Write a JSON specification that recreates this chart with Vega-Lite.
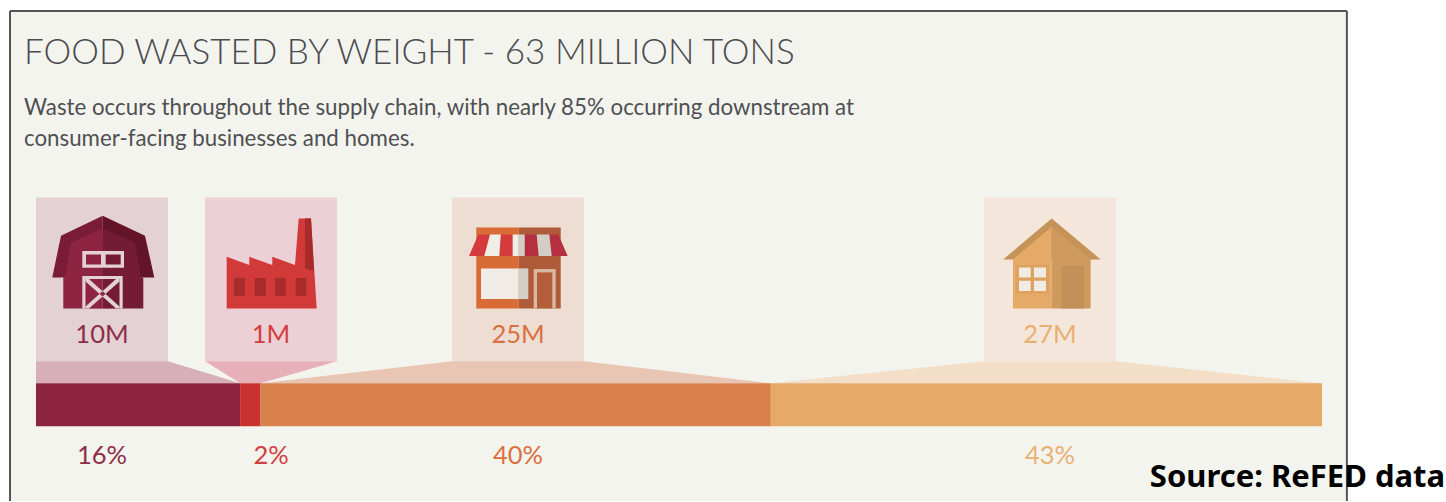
{
"$schema":"https://vega.github.io/schema/vega-lite/v6.json",
"width":1446,"height":502,"padding":0,
"autosize":{"type":"fit","contains":"padding"},
"background":"#ffffff",
"config":{"view":{"stroke":null},"axis":{"disable":true}},
"resolve":{"scale":{"color":"independent"}},
"datasets":{
"card":[{"name":"card"}],
"stages":[
{"stage":"Farms","seq":1,"tons":10,"tonsLabel":"10M","shareLabel":"16%","center":3.233,"panelStart":0,"panelEnd":6.467},
{"stage":"Manufacturers","seq":2,"tons":1,"tonsLabel":"1M","shareLabel":"2%","center":11.512,"panelStart":8.279,"panelEnd":14.746},
{"stage":"Consumer-facing businesses","seq":3,"tons":25,"tonsLabel":"25M","shareLabel":"40%","center":23.613,"panelStart":20.379,"panelEnd":26.846},
{"stage":"Homes","seq":4,"tons":27,"tonsLabel":"27M","shareLabel":"43%","center":49.674,"panelStart":46.441,"panelEnd":52.907}
],
"funnels":[
{"stage":"Farms","edge":"panel","from":0,"to":6.467},
{"stage":"Farms","edge":"bar","from":0,"to":10},
{"stage":"Manufacturers","edge":"panel","from":8.279,"to":14.746},
{"stage":"Manufacturers","edge":"bar","from":10,"to":11},
{"stage":"Consumer-facing businesses","edge":"panel","from":20.379,"to":26.846},
{"stage":"Consumer-facing businesses","edge":"bar","from":11,"to":36},
{"stage":"Homes","edge":"panel","from":46.441,"to":52.907},
{"stage":"Homes","edge":"bar","from":36,"to":63}
],
"iconParts":[
{"stage":"Farms","part":"barnRoofL"},{"stage":"Farms","part":"barnRoofR"},{"stage":"Farms","part":"barnWallL"},{"stage":"Farms","part":"barnWallR"},{"stage":"Farms","part":"barnTrim"},{"stage":"Farms","part":"barnPaneL"},{"stage":"Farms","part":"barnPaneR"},{"stage":"Farms","part":"barnCross"},
{"stage":"Manufacturers","part":"plant"},{"stage":"Manufacturers","part":"plantShade"},
{"stage":"Consumer-facing businesses","part":"shopL"},{"stage":"Consumer-facing businesses","part":"shopR"},{"stage":"Consumer-facing businesses","part":"awningRedL"},{"stage":"Consumer-facing businesses","part":"awningWhiteL"},{"stage":"Consumer-facing businesses","part":"awningRedR"},{"stage":"Consumer-facing businesses","part":"awningWhiteR"},{"stage":"Consumer-facing businesses","part":"shopGlassL"},{"stage":"Consumer-facing businesses","part":"shopGlassR"},{"stage":"Consumer-facing businesses","part":"shopDoorFrame"},{"stage":"Consumer-facing businesses","part":"shopDoor"},
{"stage":"Homes","part":"houseRoof"},{"stage":"Homes","part":"houseWallL"},{"stage":"Homes","part":"houseWallR"},{"stage":"Homes","part":"houseDoor"},{"stage":"Homes","part":"houseSash"},{"stage":"Homes","part":"housePanes"}
]
},
"layer":[
{"data":{"name":"card"},"mark":{"type":"rect","fill":"#F4F4EE"},
"encoding":{"x":{"datum":-1.274,"type":"quantitative","scale":{"domain":[-1.7636,69.0753],"nice":false,"zero":false}},"x2":{"datum":64.22},"y":{"datum":10,"type":"quantitative","scale":{"domain":[501,-1],"nice":false,"zero":false}},"y2":{"datum":501}}},
{"data":{"name":"card"},"mark":{"type":"rule","stroke":"#555555","strokeWidth":2},
"encoding":{"x":{"datum":-1.274,"type":"quantitative"},"x2":{"datum":64.22},"y":{"datum":10,"type":"quantitative"}}},
{"data":{"name":"card"},"mark":{"type":"rule","stroke":"#555555","strokeWidth":2},
"encoding":{"x":{"datum":-1.274,"type":"quantitative"},"y":{"datum":10,"type":"quantitative"},"y2":{"datum":501}}},
{"data":{"name":"card"},"mark":{"type":"rule","stroke":"#555555","strokeWidth":2},
"encoding":{"x":{"datum":64.22,"type":"quantitative"},"y":{"datum":10,"type":"quantitative"},"y2":{"datum":501}}},
{"data":{"name":"stages"},"mark":{"type":"rect"},
"encoding":{"x":{"field":"panelStart","type":"quantitative"},"x2":{"field":"panelEnd"},"y":{"datum":197,"type":"quantitative"},"y2":{"datum":361},
"color":{"field":"stage","type":"nominal","legend":null,"scale":{"domain":["Farms","Manufacturers","Consumer-facing businesses","Homes"],"range":["#E3D1D4","#EDD0D5","#EEDDD3","#F4E6DA"]}}}},
{"data":{"name":"funnels"},
"transform":[{"calculate":"datum.edge === 'panel' ? 361 : 383","as":"depth"}],
"mark":{"type":"area","orient":"horizontal"},
"encoding":{"y":{"field":"depth","type":"quantitative"},"x":{"field":"from","type":"quantitative","stack":null},"x2":{"field":"to"},
"color":{"field":"stage","type":"nominal","legend":null,"scale":{"domain":["Farms","Manufacturers","Consumer-facing businesses","Homes"],"range":["#D6AFBA","#E7B0B8","#E9C5B4","#F3DEC8"]}}}},
{"data":{"name":"stages"},
"transform":[{"stack":"tons","groupby":[],"sort":[{"field":"seq","order":"ascending"}],"as":["tonsStart","tonsEnd"]}],
"mark":{"type":"rect"},
"encoding":{"x":{"field":"tonsStart","type":"quantitative"},"x2":{"field":"tonsEnd"},"y":{"datum":383,"type":"quantitative"},"y2":{"datum":426},
"color":{"field":"stage","type":"nominal","legend":null,"scale":{"domain":["Farms","Manufacturers","Consumer-facing businesses","Homes"],"range":["#8D2441","#C7322E","#D8814C","#E5A968"]}}}},
{"data":{"name":"iconParts"},
"transform":[{"lookup":"stage","from":{"data":{"name":"stages"},"key":"stage","fields":["center"]}}],
"mark":{"type":"point","filled":true,"opacity":1,"size":4},
"encoding":{"x":{"field":"center","type":"quantitative"},"y":{"datum":308,"type":"quantitative"},
"shape":{"field":"part","type":"nominal","legend":null,"scale":{
"domain":["barnRoofL","barnRoofR","barnWallL","barnWallR","barnTrim","barnPaneL","barnPaneR","barnCross","plant","plantShade","shopL","shopR","awningRedL","awningWhiteL","awningRedR","awningWhiteR","shopGlassL","shopGlassR","shopDoorFrame","shopDoor","houseRoof","houseWallL","houseWallR","houseDoor","houseSash","housePanes"],
"range":[
"M0.7,-92.7L-41,-72.7L-49.7,-31L0.7,-31Z",
"M0.7,-92.7L43,-72.7L52.3,-31L0.7,-31Z",
"M0.7,-80L-31,-66L-37,-31L-38.7,-31L-38.7,0L0.7,0Z",
"M0.7,-80L33,-66L39,-31L41.3,-31L41.3,0L0.7,0Z",
"M-19.7,-57.3L22,-57.3L22,-40.7L-19.7,-40.7ZM-19.7,-32.3L20.7,-32.3L20.7,0L-19.7,0Z",
"M-16,-54L-1,-54L-1,-44L-16,-44ZM-16.5,-29.5L0.7,-29.5L0.7,0L-16.5,0Z",
"M3.7,-54L18.7,-54L18.7,-44L3.7,-44ZM0.7,-29.5L17.5,-29.5L17.5,0L0.7,0Z",
"M-16.5,-29.5L-13,-29.5L17.5,-2L17.5,0L14,0L-16.5,-27ZM17.5,-29.5L14,-29.5L-16.5,-2L-16.5,0L-13,0L17.5,-27Z",
"M-44.3,0L-44.3,-51.7L-21.7,-43.3L-21.7,-51.7L1.3,-43.3L1.3,-51.7L24,-43.3L27.7,-90L40,-90L45.7,0Z",
"M34,-90L40,-90L43,-37.3L34,-40ZM-37,-30.3L-26,-30.3L-26,-12.3L-37,-12.3ZM-16.3,-30.3L-5.3,-30.3L-5.3,-12.3L-16.3,-12.3ZM4,-30.3L14.7,-30.3L14.7,-12.3L4,-12.3ZM24.7,-30.3L35.3,-30.3L35.3,-12.3L24.7,-12.3Z",
"M-41.7,-81L0.7,-81L0.7,0L-41.7,0Z",
"M0.7,-81L42.7,-81L42.7,0L0.7,0Z",
"M-39.7,-74L-28,-74L-33.7,-52.3L-49,-52.3ZM-17.3,-74L-5.3,-74L-5.3,-52.3L-18.7,-52.3Z",
"M-28,-74L-17.3,-74L-18.7,-52.3L-33.7,-52.3ZM-5.3,-74L0.7,-74L0.7,-52.3L-5.3,-52.3Z",
"M6.7,-74L18.7,-74L20.7,-52.3L6.7,-52.3ZM31.3,-74L40.3,-74L49.7,-52.3L33.7,-52.3Z",
"M0.7,-74L6.7,-74L6.7,-52.3L0.7,-52.3ZM18.7,-74L31.3,-74L33.7,-52.3L20.7,-52.3Z",
"M-37,-40L0.7,-40L0.7,-9.3L-37,-9.3Z",
"M0.7,-40L10.3,-40L10.3,-9.3L0.7,-9.3Z",
"M15.7,-39.3L37.7,-39.3L37.7,0L15.7,0Z",
"M19,-36L34.3,-36L34.3,0L19,0Z",
"M1.7,-90L50.7,-49L-46.7,-49Z",
"M1.7,-81.7L-37,-49L-37,0L1.7,0Z",
"M1.7,-81.7L40.7,-49L40.7,0L1.7,0Z",
"M11.7,-42.3L34,-42.3L34,0L11.7,0Z",
"M-34,-43.3L-1,-43.3L-1,-15L-34,-15Z",
"M-31,-41L-19.3,-41L-19.3,-31L-31,-31ZM-16,-41L-4,-41L-4,-31L-16,-31ZM-31,-27.7L-19.3,-27.7L-19.3,-17.3L-31,-17.3ZM-16,-27.7L-4,-27.7L-4,-17.3L-16,-17.3Z"
]}},
"color":{"field":"part","type":"nominal","legend":null,"scale":{
"domain":["barnRoofL","barnRoofR","barnWallL","barnWallR","barnTrim","barnPaneL","barnPaneR","barnCross","plant","plantShade","shopL","shopR","awningRedL","awningWhiteL","awningRedR","awningWhiteR","shopGlassL","shopGlassR","shopDoorFrame","shopDoor","houseRoof","houseWallL","houseWallR","houseDoor","houseSash","housePanes"],
"range":["#7A1B38","#641428","#8D2441","#741C36","#E3D1D4","#8D2441","#741C36","#E3D1D4","#D13A38","#A82B2C","#D96C36","#AF5A38","#D53A3C","#F1EEE8","#B52F40","#D2CEC6","#F1ECE6","#D4CEC6","#D9B8A4","#B35D3A","#C59358","#E5A968","#CE9A5E","#C29058","#DDA25F","#F1ECE3"]}}}},
{"data":{"name":"stages"},"mark":{"type":"text","font":"Lato","fontSize":25.5,"align":"center","baseline":"alphabetic"},
"encoding":{"x":{"field":"center","type":"quantitative"},"y":{"datum":343,"type":"quantitative"},"text":{"field":"tonsLabel"},
"color":{"field":"stage","type":"nominal","legend":null,"scale":{"domain":["Farms","Manufacturers","Consumer-facing businesses","Homes"],"range":["#8D2E49","#D13F3F","#D9703F","#E8B073"]}}}},
{"data":{"name":"stages"},"mark":{"type":"text","font":"Lato","fontSize":25.5,"align":"center","baseline":"alphabetic"},
"encoding":{"x":{"field":"center","type":"quantitative"},"y":{"datum":464,"type":"quantitative"},"text":{"field":"shareLabel"},
"color":{"field":"stage","type":"nominal","legend":null,"scale":{"domain":["Farms","Manufacturers","Consumer-facing businesses","Homes"],"range":["#8D2E49","#D13F3F","#D9703F","#E8B073"]}}}},
{"data":{"values":[{"line":"FOOD WASTED BY WEIGHT - 63 MILLION TONS"}]},"mark":{"type":"text","font":"Lato","fontWeight":300,"fontSize":35,"align":"left","baseline":"alphabetic","color":"#4A4B4F"},
"encoding":{"x":{"datum":-0.588,"type":"quantitative"},"y":{"datum":63,"type":"quantitative"},"text":{"field":"line"}}},
{"data":{"values":[{"line":"Waste occurs throughout the supply chain, with nearly 85% occurring downstream at"}]},"mark":{"type":"text","font":"Lato","fontSize":22.3,"align":"left","baseline":"alphabetic","color":"#4F5053"},
"encoding":{"x":{"datum":-0.588,"type":"quantitative"},"y":{"datum":114,"type":"quantitative"},"text":{"field":"line"}}},
{"data":{"values":[{"line":"consumer-facing businesses and homes."}]},"mark":{"type":"text","font":"Lato","fontSize":22.3,"align":"left","baseline":"alphabetic","color":"#4F5053"},
"encoding":{"x":{"datum":-0.588,"type":"quantitative"},"y":{"datum":145,"type":"quantitative"},"text":{"field":"line"}}},
{"data":{"values":[{"line":"Source: ReFED data"}]},"mark":{"type":"text","font":"Noto Sans","fontWeight":700,"fontSize":31,"align":"right","baseline":"alphabetic","color":"#000000"},
"encoding":{"x":{"datum":69.03,"type":"quantitative"},"y":{"datum":487,"type":"quantitative"},"text":{"field":"line"}}}
]
}
